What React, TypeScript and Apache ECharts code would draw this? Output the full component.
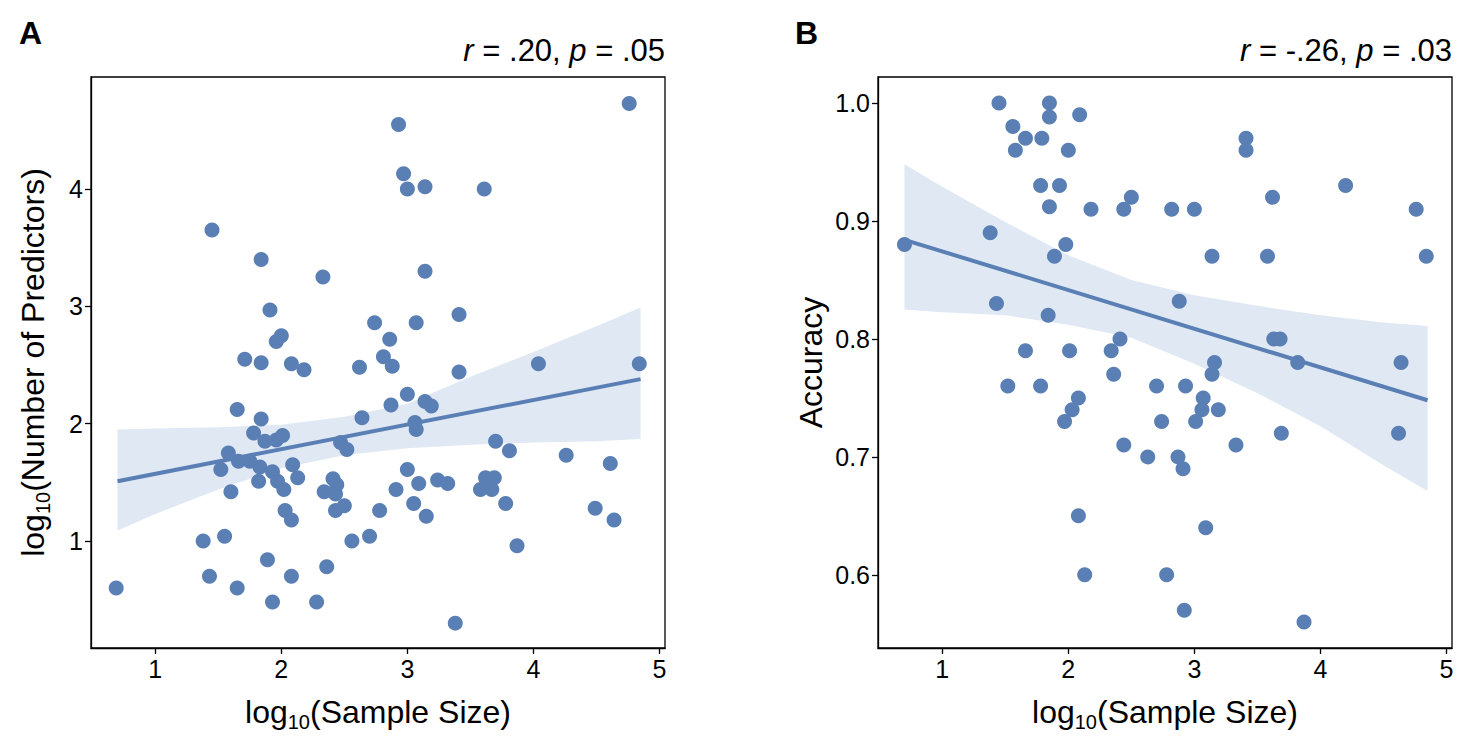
import { useEffect, useRef } from 'react';
import * as echarts from 'echarts';

const FONT = '"Liberation Sans", Arial, Helvetica, sans-serif';
const DOT = '#5a7fb5';
const BAND = '#e0e9f3';
const INK = '#000000';

// Panel A: log10(sample size) against log10(number of predictors)
const sampleA = [
  2.93, 2.97, 3.0, 3.14, 3.61, 1.45, 1.84, 2.33, 3.14, 1.91, 2.74, 3.07, 3.41, 2.0, 1.96, 2.86,
  2.81, 1.71, 1.84, 2.08, 2.18, 2.62, 2.88, 3.41, 4.04, 4.84, 1.65, 1.84, 2.64, 2.87, 3.0, 3.14,
  3.19, 1.78, 1.87, 1.96, 2.01, 3.06, 3.07, 2.47, 2.52, 1.58, 1.66, 1.75, 1.83, 1.52, 1.93, 2.09,
  1.82, 1.97, 2.02, 2.13, 1.6, 2.41, 2.44, 2.34, 2.43, 2.5, 2.43, 2.03, 2.08, 2.78, 3.0, 3.09,
  3.24, 3.32, 2.91, 3.05, 3.15, 3.62, 3.69, 3.58, 3.67, 3.7, 3.81, 4.26, 4.61, 3.78, 4.49, 4.64,
  3.87, 1.38, 1.55, 2.56, 2.7, 1.89, 2.36, 1.43, 2.08, 0.69, 1.65, 1.93, 2.28, 3.38, 4.76,
];
const predictorsA = [
  4.55, 4.13, 4.0, 4.02, 4.0, 3.65, 3.4, 3.25, 3.3, 2.97, 2.86, 2.86, 2.93, 2.75, 2.7, 2.72,
  2.57, 2.55, 2.52, 2.51, 2.46, 2.48, 2.49, 2.44, 2.51, 2.51, 2.12, 2.04, 2.05, 2.16, 2.25, 2.19,
  2.15, 1.92, 1.85, 1.86, 1.9, 2.01, 1.95, 1.84, 1.78, 1.75, 1.68, 1.68, 1.63, 1.61, 1.59, 1.65,
  1.51, 1.51, 1.44, 1.54, 1.42, 1.53, 1.48, 1.42, 1.4, 1.3, 1.26, 1.26, 1.18, 1.26, 1.61, 1.49,
  1.52, 1.49, 1.44, 1.32, 1.21, 1.54, 1.54, 1.44, 1.44, 1.85, 1.77, 1.73, 1.66, 1.32, 1.28, 1.18,
  0.96, 1.0, 1.04, 1.0, 1.04, 0.84, 0.78, 0.7, 0.7, 0.6, 0.6, 0.48, 0.48, 0.3, 4.73,
];

// Panel B: log10(sample size) against accuracy
const sampleB = [
  1.45, 1.85, 1.85, 2.09, 1.56, 1.66, 1.79, 1.58, 2.0, 1.78, 1.93, 1.85, 2.18, 2.44, 2.5, 1.38,
  0.7, 1.98, 1.89, 1.43, 1.84, 2.41, 1.66, 2.01, 2.34, 2.36, 1.52, 1.78, 2.7, 2.08, 2.03, 1.97,
  2.74, 2.44, 2.63, 2.08, 2.13, 2.78, 3.41, 3.41, 4.2, 3.62, 2.82, 3.0, 4.76, 3.14, 3.58, 4.84,
  2.88, 3.63, 3.68, 3.82, 3.16, 3.14, 4.64, 2.93, 3.07, 3.06, 3.19, 3.01, 3.33, 3.69, 4.62, 2.87,
  2.91, 3.09, 2.92, 3.87,
];
const accuracyB = [
  1.0, 1.0, 0.988, 0.99, 0.98, 0.97, 0.97, 0.96, 0.96, 0.93, 0.93, 0.912, 0.91, 0.91, 0.92, 0.89,
  0.88, 0.88, 0.87, 0.83, 0.82, 0.8, 0.79, 0.79, 0.79, 0.77, 0.76, 0.76, 0.76, 0.75, 0.74, 0.73,
  0.73, 0.71, 0.7, 0.65, 0.6, 0.6, 0.97, 0.96, 0.93, 0.92, 0.91, 0.91, 0.91, 0.87, 0.87, 0.87,
  0.832, 0.8, 0.8, 0.78, 0.78, 0.77, 0.78, 0.76, 0.75, 0.74, 0.74, 0.73, 0.71, 0.72, 0.72, 0.7,
  0.69, 0.64, 0.57, 0.56,
];

// Fitted regression lines (end points) and their confidence bands
const fitXA = [0.7, 4.85];
const fitYA = [1.51, 2.38];
const bandXA = [0.7, 1.0, 1.5, 2.0, 2.5, 3.0, 3.5, 4.0, 4.5, 4.85];
const bandHiA = [1.95, 1.96, 1.97, 1.99, 2.06, 2.17, 2.4, 2.61, 2.83, 2.99];
const bandLoA = [1.09, 1.23, 1.44, 1.62, 1.73, 1.79, 1.82, 1.84, 1.85, 1.87];

const fitXB = [0.7, 4.85];
const fitYB = [0.884, 0.748];
const bandXB = [0.7, 1.0, 1.5, 2.0, 2.5, 3.0, 3.5, 4.0, 4.5, 4.85];
const bandHiB = [0.948, 0.929, 0.899, 0.871, 0.85, 0.837, 0.828, 0.82, 0.814, 0.811];
const bandLoB = [0.825, 0.8225, 0.82, 0.812, 0.801, 0.779, 0.754, 0.726, 0.693, 0.671];

const xTicks = [1, 2, 3, 4, 5];
const yTicksA = [1, 2, 3, 4];
const yTicksB = [0.6, 0.7, 0.8, 0.9, 1.0];

const statsA = '{i|r} = .20, {i|p} = .05';
const statsB = '{i|r} = -.26, {i|p} = .03';

const nameRich = {
  a: { fontSize: 32, lineHeight: 36, fontFamily: FONT, color: INK },
  b: { fontSize: 20, lineHeight: 36, padding: [20, 0, 0, 0], fontFamily: FONT, color: INK },
};

function bandSeries(xs: number[], lo: number[], hi: number[], axis: number) {
  return {
    type: 'custom',
    xAxisIndex: axis,
    yAxisIndex: axis,
    z: 1,
    silent: true,
    data: [[xs[0], lo[0]]],
    renderItem: (_params: any, api: any) => {
      const top = xs.map((x, i) => api.coord([x, hi[i]]));
      const bottom = xs.map((x, i) => api.coord([x, lo[i]])).reverse();
      return {
        type: 'polygon',
        shape: { points: top.concat(bottom) },
        style: { fill: BAND, stroke: 'none' },
      };
    },
  };
}

function xAxisFor(grid: number) {
  return {
    type: 'value',
    gridIndex: grid,
    min: 0.49,
    max: 5.044,
    name: '{a|log}{b|10}{a|(Sample Size)}',
    nameLocation: 'middle',
    nameGap: 46,
    nameTextStyle: { rich: nameRich },
    axisLine: { show: true, onZero: false, lineStyle: { color: INK, width: 1.3 } },
    axisTick: { show: true, length: 6, customValues: xTicks, lineStyle: { color: INK, width: 1.3 } },
    axisLabel: {
      customValues: xTicks,
      margin: 8,
      fontSize: 25,
      fontFamily: FONT,
      color: INK,
      formatter: (v: number) => String(v),
    },
    splitLine: { show: false },
  };
}

function yAxisFor(grid: number, min: number, max: number, ticks: number[], name: string, gap: number, digits: number) {
  return {
    type: 'value',
    gridIndex: grid,
    min,
    max,
    name,
    nameLocation: 'middle',
    nameGap: gap,
    nameTextStyle: { rich: nameRich },
    axisLine: { show: true, onZero: false, lineStyle: { color: INK, width: 1.3 } },
    axisTick: { show: true, length: 6, customValues: ticks, lineStyle: { color: INK, width: 1.3 } },
    axisLabel: {
      customValues: ticks,
      margin: 8,
      fontSize: 25,
      fontFamily: FONT,
      color: INK,
      formatter: (v: number) => v.toFixed(digits),
    },
    splitLine: { show: false },
  };
}

function pairs(xs: number[], ys: number[]) {
  return xs.map((x, i) => [x, ys[i]]);
}

export default function App() {
  const ref = useRef<HTMLDivElement>(null);

  useEffect(() => {
    if (!ref.current) return;
    const chart = echarts.init(ref.current, null, { renderer: 'svg' });

    const grids = [
      { left: 91, top: 77, width: 574, height: 571 },
      { left: 878, top: 77, width: 574, height: 571 },
    ].map((g) => ({
      ...g,
      containLabel: false,
      show: true,
      borderColor: INK,
      borderWidth: 1.3,
      backgroundColor: 'transparent',
    }));

    const textStyle = (x: number, y: number, text: string, align: string, extra: any = {}) => ({
      type: 'text',
      x,
      y,
      silent: true,
      style: {
        text,
        fill: INK,
        fontFamily: FONT,
        fontSize: 31,
        align,
        verticalAlign: 'middle',
        rich: { i: { fontStyle: 'italic', fontSize: 31, fontFamily: FONT, fill: INK } },
        ...extra,
      },
    });

    chart.setOption({
      animation: false,
      backgroundColor: '#ffffff',
      grid: grids,
      xAxis: [xAxisFor(0), xAxisFor(1)],
      yAxis: [
        yAxisFor(0, 0.088, 4.955, yTicksA, '{a|log}{b|10}{a|(Number of Predictors)}', 40, 0),
        yAxisFor(1, 0.538, 1.022, yTicksB, '{a|Accuracy}', 49, 1),
      ],
      graphic: [
        textStyle(665, 50, statsA, 'right'),
        textStyle(1452, 50, statsB, 'right'),
        textStyle(19, 33, 'A', 'left', { fontWeight: 'bold', fontSize: 32 }),
        textStyle(795, 33, 'B', 'left', { fontWeight: 'bold', fontSize: 32 }),
      ],
      series: [
        bandSeries(bandXA, bandLoA, bandHiA, 0),
        bandSeries(bandXB, bandLoB, bandHiB, 1),
        {
          type: 'scatter',
          xAxisIndex: 0,
          yAxisIndex: 0,
          z: 2,
          symbolSize: 15,
          itemStyle: { color: DOT, opacity: 1 },
          data: pairs(sampleA, predictorsA),
        },
        {
          type: 'scatter',
          xAxisIndex: 1,
          yAxisIndex: 1,
          z: 2,
          symbolSize: 15,
          itemStyle: { color: DOT, opacity: 1 },
          data: pairs(sampleB, accuracyB),
        },
        {
          type: 'line',
          xAxisIndex: 0,
          yAxisIndex: 0,
          z: 3,
          showSymbol: false,
          symbol: 'none',
          lineStyle: { color: DOT, width: 4 },
          data: pairs(fitXA, fitYA),
        },
        {
          type: 'line',
          xAxisIndex: 1,
          yAxisIndex: 1,
          z: 3,
          showSymbol: false,
          symbol: 'none',
          lineStyle: { color: DOT, width: 4 },
          data: pairs(fitXB, fitYB),
        },
      ],
    });

    return () => chart.dispose();
  }, []);

  return (
    <div
      ref={ref}
      style={{ position: 'absolute', left: 0, top: 0, width: 1467, height: 751, background: '#fff' }}
    />
  );
}
